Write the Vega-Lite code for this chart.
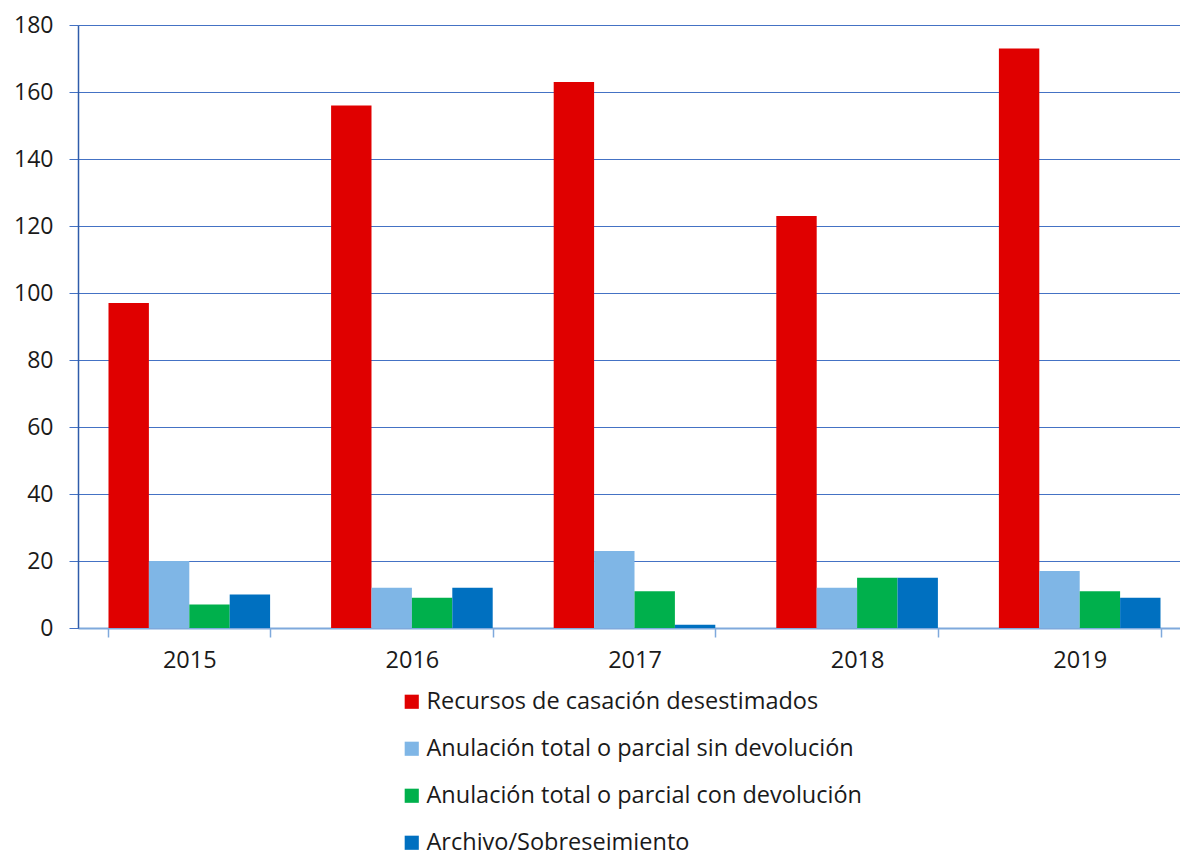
{
  "$schema": "https://vega.github.io/schema/vega-lite/v6.json",
  "width": 1113,
  "height": 603,
  "autosize": "none",
  "padding": {"left": 78, "top": 25, "right": -11, "bottom": 222},
  "background": "white",
  "config": {
    "font": "Open Sans",
    "view": {"stroke": null}
  },
  "data": {
    "values": [
      {"year": "2015", "serie": "Recursos de casación desestimados", "valor": 97},
      {"year": "2015", "serie": "Anulación total o parcial sin devolución", "valor": 20},
      {"year": "2015", "serie": "Anulación total o parcial con devolución", "valor": 7},
      {"year": "2015", "serie": "Archivo/Sobreseimiento", "valor": 10},
      {"year": "2016", "serie": "Recursos de casación desestimados", "valor": 156},
      {"year": "2016", "serie": "Anulación total o parcial sin devolución", "valor": 12},
      {"year": "2016", "serie": "Anulación total o parcial con devolución", "valor": 9},
      {"year": "2016", "serie": "Archivo/Sobreseimiento", "valor": 12},
      {"year": "2017", "serie": "Recursos de casación desestimados", "valor": 163},
      {"year": "2017", "serie": "Anulación total o parcial sin devolución", "valor": 23},
      {"year": "2017", "serie": "Anulación total o parcial con devolución", "valor": 11},
      {"year": "2017", "serie": "Archivo/Sobreseimiento", "valor": 1},
      {"year": "2018", "serie": "Recursos de casación desestimados", "valor": 123},
      {"year": "2018", "serie": "Anulación total o parcial sin devolución", "valor": 12},
      {"year": "2018", "serie": "Anulación total o parcial con devolución", "valor": 15},
      {"year": "2018", "serie": "Archivo/Sobreseimiento", "valor": 15},
      {"year": "2019", "serie": "Recursos de casación desestimados", "valor": 173},
      {"year": "2019", "serie": "Anulación total o parcial sin devolución", "valor": 17},
      {"year": "2019", "serie": "Anulación total o parcial con devolución", "valor": 11},
      {"year": "2019", "serie": "Archivo/Sobreseimiento", "valor": 9}
    ]
  },
  "mark": {"type": "bar"},
  "encoding": {
    "x": {
      "field": "year",
      "type": "nominal",
      "title": null,
      "scale": {"paddingInner": 0.274, "paddingOuter": 0.137},
      "axis": {
        "labelAngle": 0,
        "labelFontSize": 23.5,
        "labelColor": "#1a1a1a",
        "labelPadding": 11,
        "domainColor": "#7FA9DC",
        "domainWidth": 2,
        "tickColor": "#7FA9DC",
        "tickWidth": 1.5,
        "tickSize": 9,
        "tickBand": "extent",
        "grid": false
      }
    },
    "xOffset": {
      "field": "serie",
      "type": "nominal",
      "scale": {"domain": ["Recursos de casación desestimados", "Anulación total o parcial sin devolución", "Anulación total o parcial con devolución", "Archivo/Sobreseimiento"], "paddingInner": 0, "paddingOuter": 0}
    },
    "y": {
      "field": "valor",
      "type": "quantitative",
      "title": null,
      "scale": {"domain": [0, 180], "nice": false},
      "axis": {
        "values": [0, 20, 40, 60, 80, 100, 120, 140, 160, 180],
        "labelFontSize": 23,
        "labelColor": "#1a1a1a",
        "labelPadding": 16,
        "domainColor": "#2F5CAA",
        "domainWidth": 1.5,
        "tickColor": "#4472C4",
        "tickSize": 9,
        "gridColor": "#4472C4",
        "gridWidth": 1,
        "grid": true
      }
    },
    "color": {
      "field": "serie",
      "type": "nominal",
      "title": null,
      "scale": {
        "domain": ["Recursos de casación desestimados", "Anulación total o parcial sin devolución", "Anulación total o parcial con devolución", "Archivo/Sobreseimiento"],
        "range": ["#E00000", "#7FB6E6", "#00B04C", "#0070C0"]
      },
      "legend": {
        "orient": "none",
        "legendX": 322,
        "legendY": 665,
        "direction": "vertical",
        "symbolType": "square",
        "symbolSize": 200,
        "symbolStrokeWidth": 0,
        "labelFontSize": 23.5,
        "labelColor": "#1a1a1a",
        "labelOffset": 3,
        "rowPadding": 22,
        "labelLimit": 600
      }
    }
  }
}
